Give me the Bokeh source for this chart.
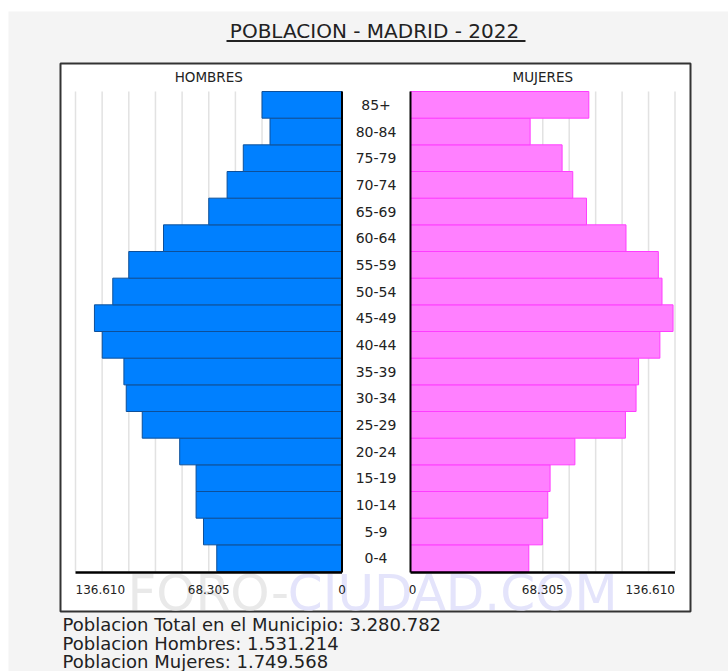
from bokeh.plotting import figure
from bokeh.models import Range1d, ColumnDataSource
from bokeh.core.properties import value
from bokeh.embed import file_html
from bokeh.resources import INLINE
import numpy as np

# ---------------- data ----------------
ages = ["0-4", "5-9", "10-14", "15-19", "20-24", "25-29", "30-34", "35-39",
        "40-44", "45-49", "50-54", "55-59", "60-64", "65-69", "70-74",
        "75-79", "80-84", "85+"]
hombres = [64200, 71000, 74800, 74800, 83200, 102400, 110600, 111800, 122900,
           126900, 117500, 109300, 91500, 68300, 58900, 50600, 36900, 41000]
mujeres = [61100, 68100, 70900, 72100, 84900, 111000, 116500, 117800, 128800,
           135600, 129900, 128000, 111300, 90900, 83800, 78300, 61800, 92100]
axis_max = 136610
tick_values = [0, 68305, 136610]
tick_labels = ["0", "68.305", "136.610"]
title_text = "POBLACION - MADRID - 2022"
header_left = "HOMBRES"
header_right = "MUJERES"
summary_lines = ["Poblacion Total en el Municipio: 3.280.782",
                 "Poblacion Hombres: 1.531.214",
                 "Poblacion Mujeres: 1.749.568"]
watermark_a = "FORO-"
watermark_b = "CIUDAD.COM"

FONT = value("DejaVu Sans")

# ---------------- layout (page pixel anchors) ----------------
W, H = 728, 671
m_zero, m_max = 341.5, 75.0      # male panel: value 0 / max
f_zero, f_max = 410.0, 674.5     # female panel
row_top, row_bot = 91.0, 571.0

km = (m_zero - m_max) / axis_max
kf = (f_max - f_zero) / axis_max
rh = (row_bot - row_top) / len(ages)

p = figure(width=W, height=H,
           x_range=Range1d(0, W), y_range=Range1d(H, 0),
           x_axis_type=None, y_axis_type=None,
           toolbar_location=None, output_backend="svg",
           min_border=0, outline_line_color=None,
           background_fill_color="white", border_fill_color="white")
p.grid.visible = False

p.extra_x_ranges = {
    "male": Range1d(m_zero / km, (m_zero - W) / km),
    "female": Range1d(-f_zero / kf, (W - f_zero) / kf),
}
p.extra_y_ranges = {
    "age": Range1d((row_bot - H) / rh - 0.5, row_bot / rh - 0.5),
}

# page background and chart box
p.quad(left=8, right=W, top=11, bottom=H,
       fill_color="#f4f4f4", line_color=None)
p.quad(left=60, right=690, top=63, bottom=611,
       fill_color="white", line_color="#333333", line_width=2)

# watermark
p.text(x=[127], y=[592], text=[watermark_a], text_font=FONT,
       text_font_size="50px", text_color="#e9e9e9",
       text_align="left", text_baseline="middle")
p.text(x=[127 + 50 * 3.205], y=[592], text=[watermark_b], text_font=FONT,
       text_font_size="50px", text_color="#e4e4fb",
       text_align="left", text_baseline="middle")

idx = np.arange(len(ages))
n = len(ages)

# gridlines
grid_vals = np.linspace(0, axis_max, 11)[1:]
for side in ("male", "female"):
    p.segment(x0=grid_vals, x1=grid_vals, y0=-0.5, y1=n - 0.5,
              x_range_name=side, y_range_name="age",
              line_color="#e2e2e2", line_width=1.5)

src = ColumnDataSource(dict(y=idx, h=hombres, m=mujeres, age=ages))

p.hbar(y="y", left=0, right="h", height=1, source=src,
       x_range_name="male", y_range_name="age",
       fill_color="#0080ff", line_color="#0d4f99", line_width=1)
p.hbar(y="y", left=0, right="m", height=1, source=src,
       x_range_name="female", y_range_name="age",
       fill_color="#ff80ff", line_color="#ff3dff", line_width=1)

# zero lines and bottom axis lines
for side in ("male", "female"):
    p.segment(x0=[0], x1=[0], y0=[-0.54], y1=[n - 0.5],
              x_range_name=side, y_range_name="age",
              line_color="black", line_width=2)
    p.segment(x0=[0], x1=[axis_max], y0=[-0.54], y1=[-0.54],
              x_range_name=side, y_range_name="age",
              line_color="black", line_width=2.5)

# tick labels
p.text(x=tick_values, y=[589] * 3, text=tick_labels, x_range_name="male",
       text_align=["center", "center", "left"], text_baseline="middle",
       text_font=FONT, text_font_size="12px", text_color="#222222")
p.text(x=tick_values, y=[589] * 3, text=tick_labels, x_range_name="female",
       text_align=["center", "center", "right"], text_baseline="middle",
       x_offset=[2, 0, 0],
       text_font=FONT, text_font_size="12px", text_color="#222222")

# age labels
p.text(x=375.5, y="y", text="age", source=src, y_range_name="age",
       text_align="center", text_baseline="middle",
       text_font=FONT, text_font_size="14px", text_color="#222222")

# headers
p.text(x=[axis_max / 2], y=[76], text=[header_left], x_range_name="male",
       text_align="center", text_baseline="middle",
       text_font=FONT, text_font_size="13.5px", text_color="#222222")
p.text(x=[axis_max / 2], y=[76], text=[header_right], x_range_name="female",
       text_align="center", text_baseline="middle",
       text_font=FONT, text_font_size="13.5px", text_color="#222222")

# title
p.text(x=[374], y=[30.5], text=[title_text], text_align="center",
       text_baseline="middle", text_font=FONT, text_font_size="20px",
       text_color="#222222")
p.segment(x0=[226], x1=[525], y0=[40.5], y1=[40.5],
          line_color="#222222", line_width=2)

# summary lines
p.text(x=[62] * 3, y=[623.5, 642.5, 660.5], text=summary_lines,
       text_align="left", text_baseline="middle",
       text_font=FONT, text_font_size="18px", text_color="#222222")

open("out.html", "w").write(file_html(p, INLINE))
